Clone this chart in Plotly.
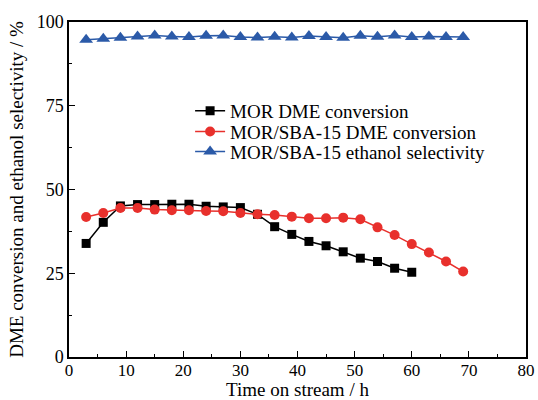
import plotly.graph_objects as go

time_blue = [3, 6, 9, 12, 15, 18, 21, 24, 27, 30, 33, 36, 39, 42, 45, 48, 51, 54, 57, 60, 63, 66, 69]
sel_blue = [94.7, 95.0, 95.3, 95.7, 96.0, 95.7, 95.5, 95.9, 96.0, 95.5, 95.4, 95.6, 95.4, 95.8, 95.5,
            95.3, 95.9, 95.6, 96.0, 95.5, 95.7, 95.5, 95.5]
time_black = [3, 6, 9, 12, 15, 18, 21, 24, 27, 30, 33, 36, 39, 42, 45, 48, 51, 54, 57, 60]
conv_mor = [33.9, 40.2, 45.1, 45.5, 45.5, 45.6, 45.6, 45.0, 44.8, 44.6, 42.6, 38.9, 36.6, 34.5,
            33.2, 31.4, 29.5, 28.5, 26.5, 25.3]
time_red = time_blue
conv_sba = [41.8, 43.0, 44.5, 44.5, 44.0, 43.8, 43.8, 43.6, 43.5, 43.0, 42.6, 42.4, 41.9, 41.4,
            41.4, 41.6, 41.1, 38.7, 36.4, 33.7, 31.2, 28.5, 25.5]

FONT = "Liberation Serif"

fig = go.Figure()
fig.add_trace(go.Scatter(x=time_black, y=conv_mor, mode="lines+markers", name="MOR DME conversion",
                         line=dict(color="black", width=1.5), legend="legend",
                         marker=dict(symbol="square", size=9, color="black")))
fig.add_trace(go.Scatter(x=time_red, y=conv_sba, mode="lines+markers", name="MOR/SBA-15 DME conversion",
                         line=dict(color="#e8302c", width=1.5), legend="legend2",
                         marker=dict(symbol="circle", size=10, color="#e8302c")))
fig.add_trace(go.Scatter(x=time_blue, y=sel_blue, mode="lines+markers", name="MOR/SBA-15 ethanol selectivity",
                         line=dict(color="#2b5aa8", width=1.5), legend="legend3",
                         marker=dict(symbol="triangle-up", size=12, color="#2b5aa8")))

axis_common = dict(showline=True, linecolor="black", linewidth=1.5, mirror=True, ticks="inside",
                   tickcolor="black", tickwidth=1.2, ticklen=6, showgrid=False, zeroline=False,
                   automargin=False)

tick_font = dict(family=FONT, size=18, color="black")

leg_common = dict(x=0.265, xanchor="left", yanchor="middle", bgcolor="rgba(0,0,0,0)",
                  font=dict(family=FONT, size=19, color="black"), itemwidth=30)

fig.update_layout(
    width=538, height=400,
    margin=dict(l=69, r=12, t=22, b=43),
    paper_bgcolor="white", plot_bgcolor="white",
    font=dict(family=FONT, size=18, color="black"),
    showlegend=True,
    legend=dict(y=0.735, **leg_common),
    legend2=dict(y=0.6725, **leg_common),
    legend3=dict(y=0.613, **leg_common),
    xaxis=dict(range=[0, 80], tick0=0, dtick=10, ticklabelstandoff=-3,
               tickfont=dict(family=FONT, size=17, color="black"),
               minor=dict(ticks="inside", dtick=5, ticklen=3, tickcolor="black"),
               title=dict(text="Time on stream / h", standoff=8, font=dict(family=FONT, size=19)),
               **axis_common),
    yaxis=dict(range=[0, 100], tick0=0, dtick=25, tickfont=tick_font,
               minor=dict(ticks="inside", dtick=12.5, ticklen=3, tickcolor="black"),
               title=dict(text="DME conversion and ethanol selectivity / %", standoff=8,
                          font=dict(family=FONT, size=19)),
               **axis_common),
)

# remove the default page margin so the 538x400 figure fills the window exactly
fig.write_html("out.html", config={"displayModeBar": False},
               post_script="document.body.style.margin='0';document.body.style.overflow='hidden';")
